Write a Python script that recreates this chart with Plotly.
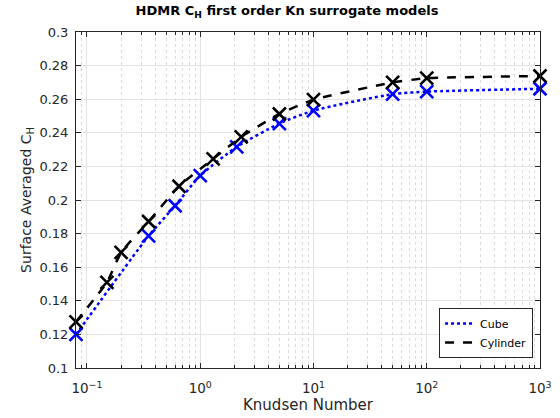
import plotly.graph_objects as go
import math

cube_kn = [0.08, 0.35, 0.6, 1.0, 2.1, 5, 10, 50, 100, 1000]
cube_ch = [0.120, 0.1786, 0.1966, 0.2145, 0.2316, 0.2455, 0.2532, 0.2630, 0.2645, 0.2662]

cyl_kn = [0.08, 0.15, 0.2, 0.35, 0.65, 1.3, 2.3, 5, 10, 50, 100, 1000]
cyl_ch = [0.1275, 0.151, 0.1688, 0.1872, 0.2082, 0.2245, 0.2376, 0.2512, 0.2597, 0.2700, 0.2725, 0.2738]

x_tickvals = [0.1, 1, 10, 100, 1000]
x_ticktext = ["10<sup>−1</sup>", "10<sup>0</sup>", "10<sup>1</sup>", "10<sup>2</sup>", "10<sup>3</sup>"]

font = "DejaVu Sans"
series = [
    ("Cube", cube_kn, cube_ch, "#0000ff", "dot", 0.6),
    ("Cylinder", cyl_kn, cyl_ch, "#000000", "dash", 0.4),
]

fig = go.Figure()
for name, xs, ys, col, dash, sm in series:
    fig.add_trace(go.Scatter(
        x=xs, y=ys, name=name, mode="lines",
        line=dict(color=col, width=2.5, dash=dash, shape="spline", smoothing=sm),
        cliponaxis=False,
    ))
    fig.add_trace(go.Scatter(
        x=xs, y=ys, name=name, mode="markers", showlegend=False,
        marker=dict(symbol="x-thin-open", size=13, color=col, line=dict(color=col, width=2.6)),
        cliponaxis=False,
    ))

axis_common = dict(
    showline=True, linecolor="#262626", linewidth=1, mirror="ticks",
    ticks="inside", ticklen=5, tickcolor="#262626",
    gridcolor="#e3e3e3", gridwidth=1, zeroline=False, automargin=False,
)

fig.update_xaxes(
    type="log", range=[math.log10(0.08), 3],
    tickmode="array", tickvals=x_tickvals, ticktext=x_ticktext,
    minor=dict(dtick="D1", ticks="inside", ticklen=3, tickcolor="#262626", showgrid=True,
               gridcolor="#dcdcdc", griddash="dot", gridwidth=1),
    ticklabelstandoff=8,
    tickfont=dict(family=font, size=13.5, color="#262626"),
    title=dict(text="Knudsen Number", font=dict(family=font, size=15, color="#262626"), standoff=4),
    **axis_common,
)
fig.update_yaxes(
    range=[0.1, 0.3], dtick=0.02, tick0=0.1,
    tickfont=dict(family=font, size=13, color="#262626"),
    ticklabelstandoff=4,
    title=dict(text="Surface Averaged C<sub>H</sub>", font=dict(family=font, size=14, color="#262626"), standoff=4),
    **axis_common,
)

fig.update_layout(
    width=560, height=418,
    margin=dict(l=76, r=20, t=32, b=50),
    paper_bgcolor="white", plot_bgcolor="white",
    title=dict(text="<b>HDMR C<sub>H</sub> first order Kn surrogate models</b>",
               x=0.5125, xanchor="center", y=0.985, yanchor="top",
               font=dict(family=font, size=13, color="black")),
    legend=dict(x=0.985, y=0.03, xanchor="right", yanchor="bottom",
                bgcolor="white", bordercolor="#262626", borderwidth=1,
                font=dict(family=font, size=11, color="black"),
                itemwidth=30, tracegroupgap=0),
    showlegend=True,
)

fig.write_html("out.html")
